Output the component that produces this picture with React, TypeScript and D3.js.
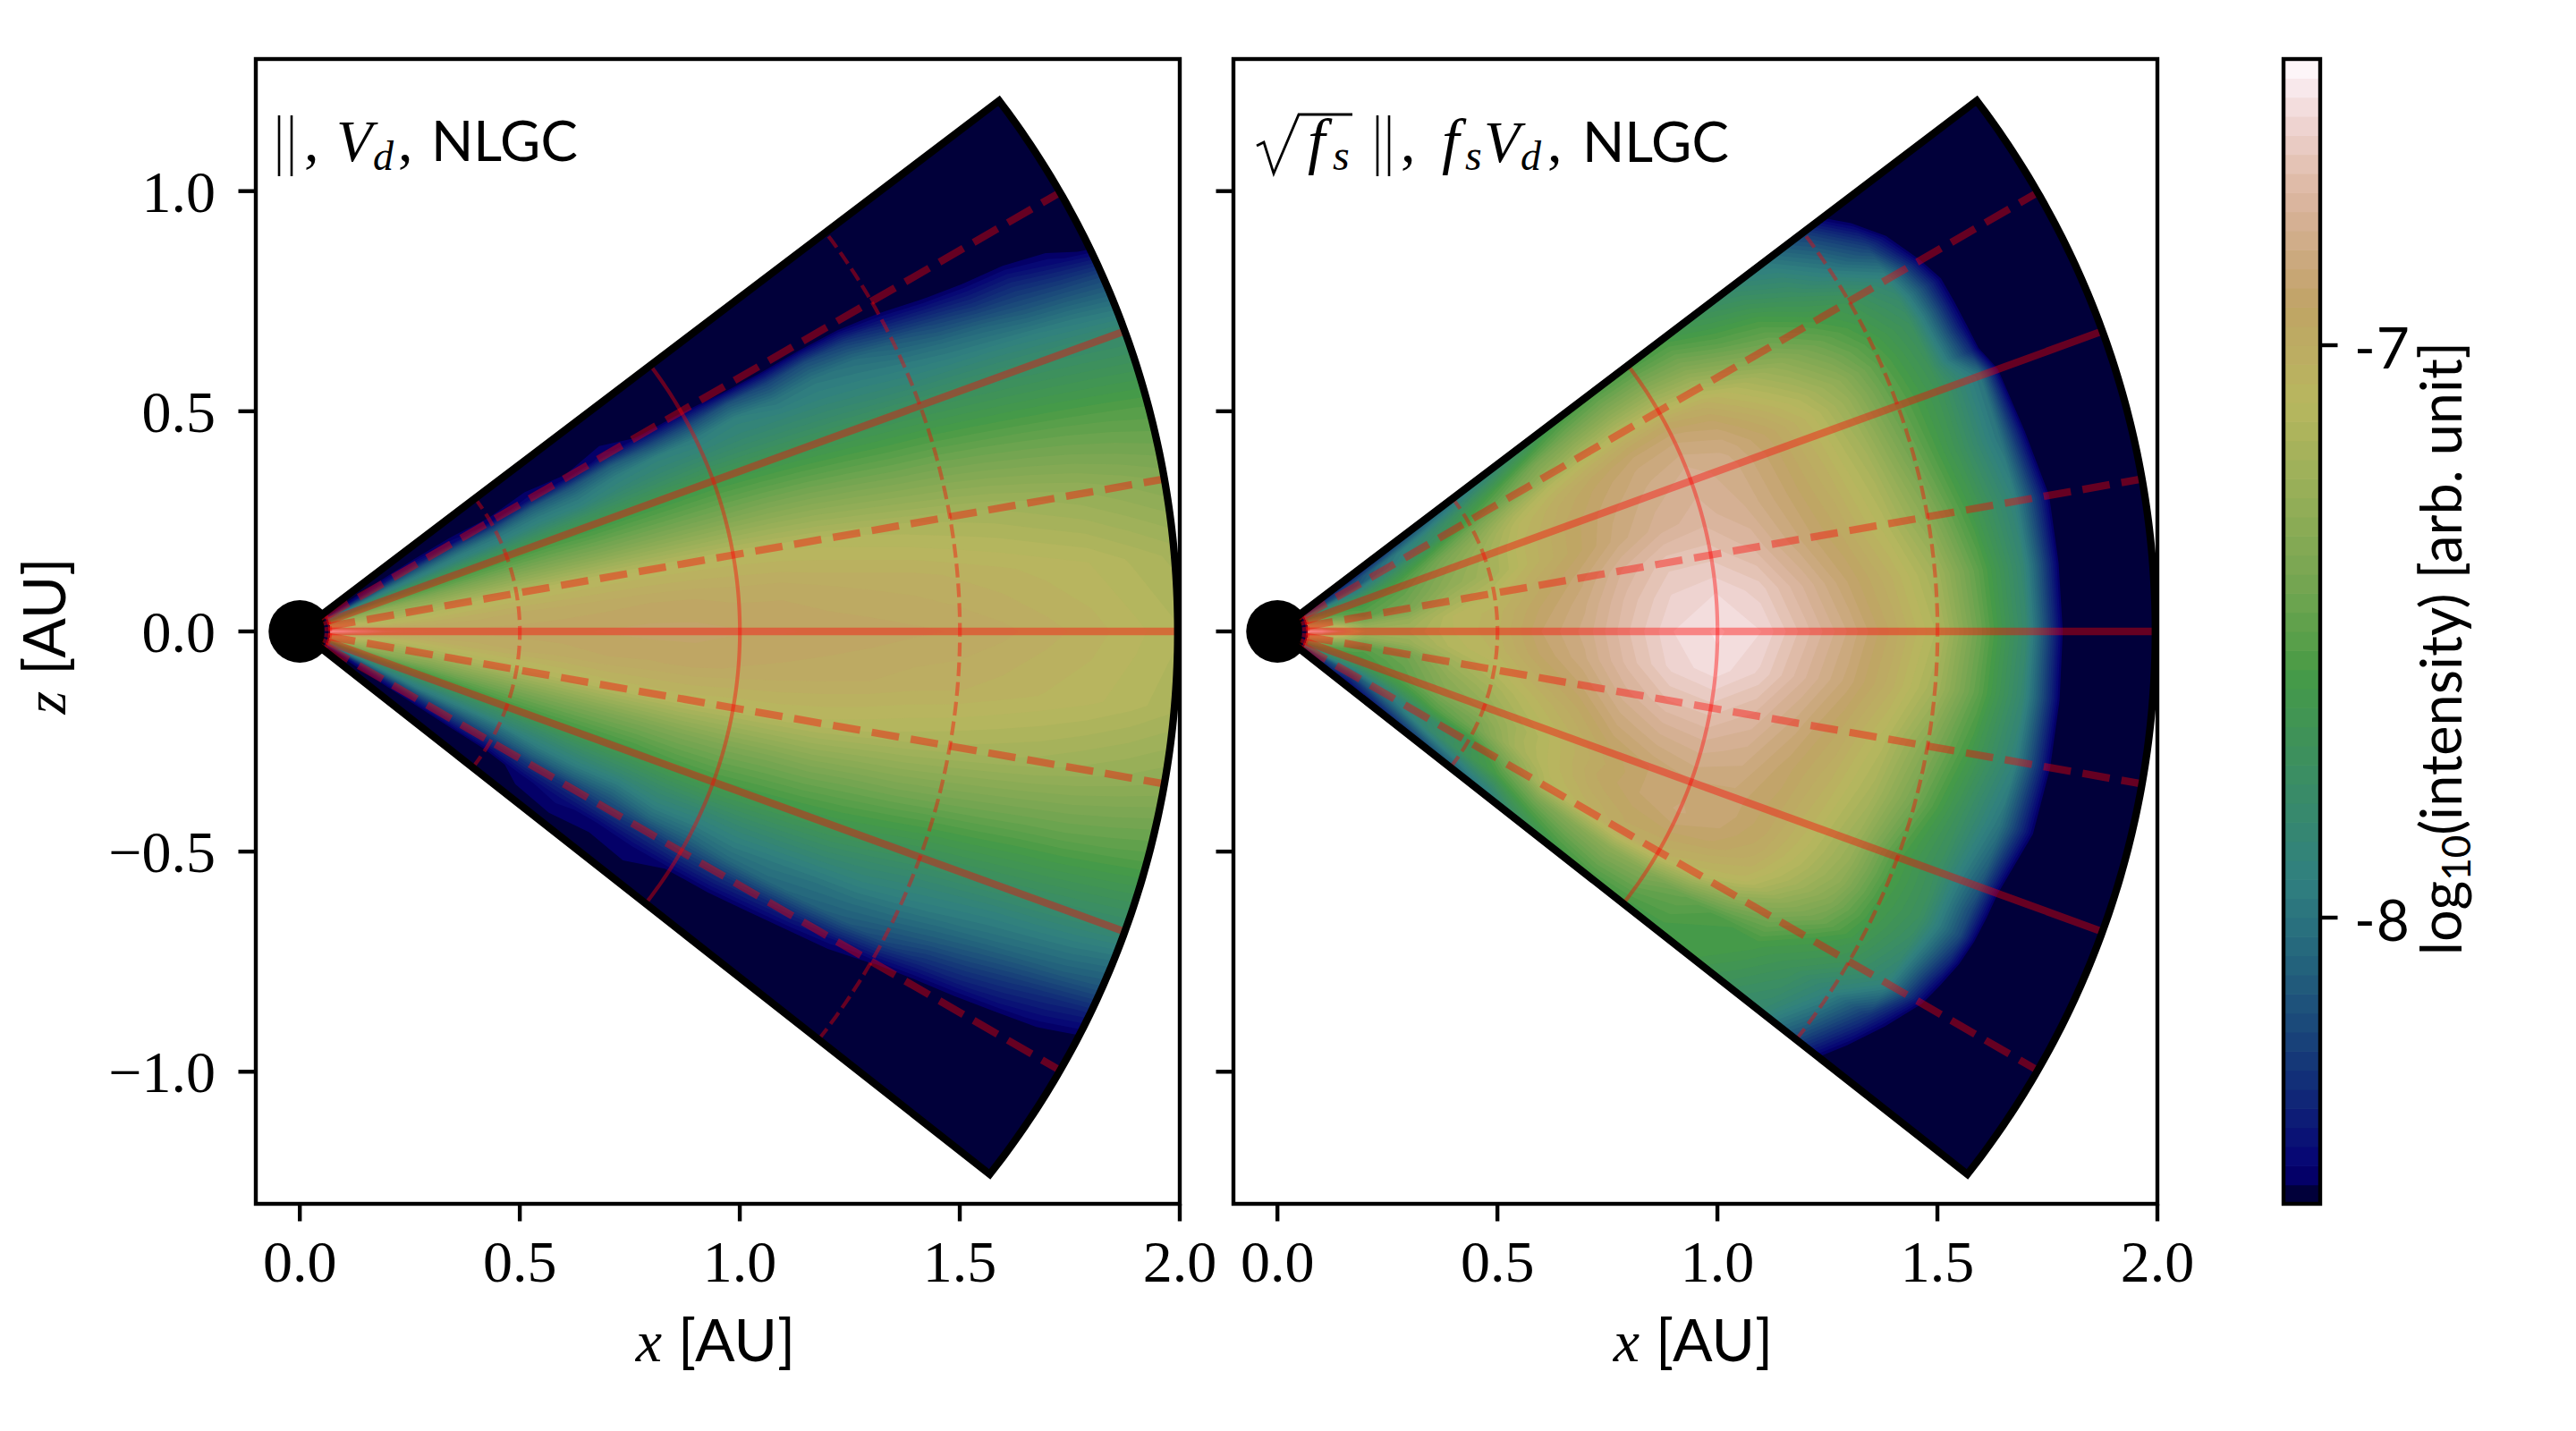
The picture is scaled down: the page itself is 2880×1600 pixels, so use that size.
// App.tsx
import React from "react";
import * as d3 from "d3";

const SERIF = "'Liberation Serif', serif";
const SANS = "Lato, 'Open Sans', sans-serif";

// polar grid of the two intensity maps
const radii = [0.07, 0.1, 0.15, 0.2, 0.3, 0.4, 0.5, 0.6, 0.7, 0.8, 0.9, 1.0, 1.1, 1.2, 1.3, 1.4, 1.5, 1.6, 1.7, 1.8, 1.9, 2.0];
const thetas = [37.2, 33, 30, 28, 26, 24, 22, 20, 15, 10, 5, 0, -5, -10, -15, -20, -22, -24, -26, -28, -30, -33, -38.2];

// log10(intensity), one row per theta
// (values under -8.5 only place the edge of the navy area)
const leftField = [
  [-8.5, -8.5, -8.5, -8.5, -8.5, -8.5, -8.5, -8.5, -8.5, -8.5, -8.5, -8.5, -8.5, -8.5, -8.5, -8.5, -8.5, -8.5, -8.5, -8.5, -8.5, -8.5],
  [-8.5, -8.5, -8.5, -8.5, -8.5, -8.5, -8.5, -8.5, -8.5, -8.5, -8.5, -8.5, -8.5, -8.5, -8.5, -8.5, -8.5, -8.5, -8.5, -8.5, -8.5, -8.5],
  [-8.5, -8.45, -8.4, -8.38, -8.35, -8.4, -8.45, -8.42, -8.46, -8.42, -8.48, -8.5, -8.6, -8.6, -8.6, -8.6, -8.6, -8.6, -8.6, -8.6, -8.6, -8.6],
  [-8.4, -8.3, -8.25, -8.2, -8.15, -8.15, -8.2, -8.12, -8.15, -8.1, -8.18, -8.2, -8.15, -8.22, -8.18, -8.25, -8.38, -8.46, -8.5, -8.52, -8.55, -8.6],
  [-8.2, -8.1, -8.05, -8.0, -8.0, -7.98, -8.0, -7.98, -8.0, -7.94, -7.92, -7.96, -7.92, -8.0, -7.98, -8.02, -8.12, -8.22, -8.3, -8.32, -8.4, -8.5],
  [-8.05, -7.95, -7.9, -7.88, -7.88, -7.88, -7.9, -7.88, -7.9, -7.86, -7.85, -7.86, -7.86, -7.88, -7.9, -7.93, -7.97, -8.02, -8.07, -8.14, -8.18, -8.22],
  [-7.85, -7.75, -7.72, -7.7, -7.72, -7.72, -7.74, -7.74, -7.74, -7.74, -7.74, -7.74, -7.76, -7.78, -7.8, -7.83, -7.86, -7.88, -7.9, -7.93, -7.97, -8.02],
  [-7.7, -7.6, -7.55, -7.55, -7.6, -7.6, -7.6, -7.6, -7.62, -7.62, -7.62, -7.62, -7.64, -7.66, -7.68, -7.7, -7.72, -7.74, -7.76, -7.78, -7.8, -7.82],
  [-7.35, -7.3, -7.28, -7.3, -7.35, -7.36, -7.36, -7.37, -7.38, -7.38, -7.38, -7.38, -7.38, -7.39, -7.41, -7.43, -7.44, -7.46, -7.48, -7.5, -7.52, -7.54],
  [-7.1, -7.15, -7.18, -7.2, -7.18, -7.14, -7.12, -7.11, -7.1, -7.1, -7.1, -7.1, -7.11, -7.12, -7.14, -7.16, -7.18, -7.2, -7.23, -7.26, -7.3, -7.34],
  [-6.9, -7.0, -7.05, -7.08, -7.05, -7.02, -7.0, -6.99, -6.98, -6.97, -6.97, -6.98, -6.98, -7.0, -7.01, -7.02, -7.04, -7.06, -7.08, -7.1, -7.14, -7.18],
  [-6.55, -6.6, -6.75, -6.88, -6.93, -6.95, -6.95, -6.94, -6.93, -6.92, -6.92, -6.93, -6.93, -6.94, -6.95, -6.96, -6.97, -6.99, -7.02, -7.05, -7.09, -7.13],
  [-6.9, -7.0, -7.06, -7.09, -7.05, -7.02, -7.0, -6.99, -6.97, -6.97, -6.96, -6.97, -6.98, -6.99, -7.0, -7.02, -7.03, -7.05, -7.07, -7.09, -7.12, -7.16],
  [-7.1, -7.15, -7.18, -7.22, -7.2, -7.16, -7.14, -7.12, -7.1, -7.09, -7.09, -7.1, -7.1, -7.11, -7.13, -7.15, -7.17, -7.19, -7.21, -7.24, -7.27, -7.3],
  [-7.35, -7.3, -7.3, -7.32, -7.38, -7.38, -7.38, -7.38, -7.38, -7.38, -7.37, -7.37, -7.38, -7.38, -7.4, -7.41, -7.43, -7.45, -7.47, -7.48, -7.5, -7.52],
  [-7.7, -7.6, -7.58, -7.58, -7.62, -7.62, -7.6, -7.6, -7.6, -7.6, -7.58, -7.58, -7.6, -7.62, -7.64, -7.68, -7.72, -7.74, -7.76, -7.78, -7.8, -7.82],
  [-7.95, -7.8, -7.76, -7.76, -7.76, -7.76, -7.76, -7.74, -7.72, -7.72, -7.7, -7.7, -7.72, -7.74, -7.76, -7.8, -7.84, -7.87, -7.9, -7.92, -7.95, -8.0],
  [-8.1, -7.95, -7.9, -7.88, -7.88, -7.88, -7.86, -7.86, -7.84, -7.84, -7.82, -7.84, -7.84, -7.86, -7.88, -7.9, -7.94, -7.98, -8.02, -8.06, -8.1, -8.15],
  [-8.2, -8.1, -8.05, -8.02, -7.98, -8.0, -8.02, -7.96, -7.95, -7.98, -7.92, -7.95, -7.94, -7.97, -8.0, -8.02, -8.06, -8.12, -8.18, -8.24, -8.3, -8.36],
  [-8.38, -8.3, -8.25, -8.2, -8.15, -8.16, -8.14, -8.1, -8.1, -8.12, -8.06, -8.08, -8.05, -8.05, -8.08, -8.12, -8.2, -8.3, -8.35, -8.4, -8.45, -8.52],
  [-8.5, -8.45, -8.4, -8.36, -8.32, -8.28, -8.3, -8.26, -8.28, -8.24, -8.26, -8.24, -8.26, -8.3, -8.34, -8.4, -8.46, -8.52, -8.56, -8.6, -8.6, -8.6],
  [-8.5, -8.5, -8.5, -8.5, -8.5, -8.5, -8.5, -8.44, -8.42, -8.45, -8.44, -8.47, -8.5, -8.55, -8.6, -8.6, -8.6, -8.6, -8.6, -8.6, -8.6, -8.6],
  [-8.5, -8.5, -8.5, -8.5, -8.5, -8.5, -8.5, -8.5, -8.5, -8.5, -8.5, -8.5, -8.5, -8.5, -8.5, -8.5, -8.5, -8.5, -8.5, -8.5, -8.5, -8.5],
];

// same grid
const rightField = [
  [-8.5, -8.5, -8.48, -8.45, -8.35, -8.2, -8.05, -7.9, -7.75, -7.6, -7.56, -7.58, -7.6, -7.72, -7.85, -8.0, -8.25, -8.65, -8.9, -8.9, -8.5, -8.5],
  [-8.4, -8.3, -8.25, -8.2, -8.0, -7.85, -7.7, -7.55, -7.4, -7.34, -7.3, -7.3, -7.36, -7.5, -7.58, -7.74, -7.95, -8.22, -8.72, -8.9, -8.5, -8.5],
  [-8.2, -8.15, -8.15, -8.15, -7.95, -7.75, -7.55, -7.4, -7.26, -7.16, -7.1, -7.1, -7.16, -7.3, -7.42, -7.56, -7.68, -7.9, -8.55, -8.9, -8.5, -8.5],
  [-8.0, -7.98, -8.0, -8.0, -7.8, -7.6, -7.42, -7.26, -7.12, -7.04, -6.98, -6.96, -7.02, -7.16, -7.3, -7.46, -7.62, -7.8, -8.42, -9.0, -8.5, -8.5],
  [-7.85, -7.85, -7.88, -7.9, -7.7, -7.5, -7.34, -7.16, -7.04, -6.96, -6.9, -6.88, -6.94, -7.08, -7.22, -7.38, -7.56, -7.74, -8.4, -9.0, -8.5, -8.5],
  [-7.75, -7.75, -7.78, -7.8, -7.62, -7.42, -7.28, -7.1, -7.0, -6.92, -6.86, -6.84, -6.88, -7.0, -7.14, -7.3, -7.52, -7.72, -8.38, -9.0, -8.5, -8.5],
  [-7.6, -7.65, -7.68, -7.7, -7.55, -7.38, -7.24, -7.08, -6.98, -6.9, -6.84, -6.8, -6.84, -6.94, -7.08, -7.26, -7.5, -7.7, -8.3, -9.2, -8.5, -8.5],
  [-7.5, -7.55, -7.6, -7.65, -7.52, -7.35, -7.22, -7.06, -6.96, -6.88, -6.82, -6.78, -6.82, -6.92, -7.06, -7.24, -7.48, -7.68, -8.0, -9.1, -8.5, -8.5],
  [-7.3, -7.4, -7.5, -7.55, -7.45, -7.3, -7.2, -7.05, -6.95, -6.85, -6.78, -6.75, -6.8, -6.9, -7.02, -7.18, -7.42, -7.68, -8.0, -8.8, -8.5, -8.5],
  [-7.1, -7.2, -7.35, -7.5, -7.4, -7.2, -7.1, -6.98, -6.88, -6.76, -6.68, -6.68, -6.74, -6.86, -6.97, -7.12, -7.32, -7.6, -7.9, -8.6, -8.5, -8.5],
  [-6.9, -7.0, -7.15, -7.3, -7.25, -7.1, -7.05, -6.93, -6.84, -6.72, -6.63, -6.6, -6.65, -6.77, -6.9, -7.03, -7.2, -7.5, -7.85, -8.6, -8.5, -8.5],
  [-6.55, -6.6, -6.9, -7.2, -7.2, -7.1, -7.04, -6.9, -6.82, -6.7, -6.6, -6.56, -6.6, -6.72, -6.84, -6.98, -7.14, -7.46, -7.82, -8.58, -8.5, -8.5],
  [-6.9, -7.0, -7.15, -7.3, -7.25, -7.12, -7.06, -6.93, -6.84, -6.72, -6.62, -6.58, -6.64, -6.76, -6.88, -7.02, -7.2, -7.5, -7.85, -8.58, -8.5, -8.5],
  [-7.1, -7.2, -7.35, -7.5, -7.42, -7.22, -7.12, -7.0, -6.9, -6.78, -6.7, -6.68, -6.74, -6.85, -6.97, -7.12, -7.34, -7.6, -7.9, -8.58, -8.5, -8.5],
  [-7.3, -7.4, -7.5, -7.55, -7.46, -7.3, -7.2, -7.08, -6.98, -6.86, -6.8, -6.78, -6.82, -6.92, -7.03, -7.18, -7.42, -7.7, -8.0, -8.6, -8.5, -8.5],
  [-7.5, -7.55, -7.6, -7.6, -7.5, -7.35, -7.28, -7.15, -7.05, -6.95, -6.9, -6.87, -6.88, -6.95, -7.08, -7.25, -7.55, -7.75, -8.15, -8.9, -8.5, -8.5],
  [-7.6, -7.65, -7.68, -7.68, -7.56, -7.4, -7.32, -7.18, -7.06, -6.97, -6.9, -6.87, -6.88, -6.96, -7.1, -7.27, -7.56, -7.74, -8.2, -8.9, -8.5, -8.5],
  [-7.75, -7.75, -7.78, -7.78, -7.62, -7.46, -7.38, -7.18, -7.07, -6.96, -6.9, -6.86, -6.9, -6.98, -7.13, -7.3, -7.58, -7.74, -8.2, -9.0, -8.5, -8.5],
  [-7.85, -7.85, -7.88, -7.88, -7.72, -7.52, -7.42, -7.2, -7.08, -6.98, -6.93, -6.9, -6.94, -7.02, -7.18, -7.36, -7.6, -7.78, -8.3, -9.0, -8.5, -8.5],
  [-8.0, -7.98, -8.0, -8.02, -7.84, -7.62, -7.52, -7.3, -7.1, -7.02, -6.96, -6.96, -7.02, -7.08, -7.28, -7.44, -7.64, -7.84, -8.42, -9.0, -8.5, -8.5],
  [-8.2, -8.15, -8.15, -8.15, -7.95, -7.8, -7.7, -7.4, -7.14, -7.06, -6.98, -7.02, -7.1, -7.26, -7.4, -7.58, -7.7, -7.9, -8.52, -9.0, -8.5, -8.5],
  [-8.4, -8.3, -8.25, -8.3, -8.1, -7.85, -7.7, -7.56, -7.4, -7.34, -7.3, -7.34, -7.46, -7.56, -7.58, -7.7, -7.9, -8.26, -8.7, -8.9, -8.5, -8.5],
  [-8.5, -8.5, -8.48, -8.48, -8.4, -8.3, -8.15, -8.0, -7.75, -7.62, -7.58, -7.6, -7.6, -7.6, -7.72, -7.85, -8.2, -8.62, -8.9, -8.9, -8.5, -8.5],
];

// guide lines
const solidRays = [0, 20, -20];
const dashedRays = [10, -10, 30, -30];
const solidArcs = [1.0];
const dashedArcs = [0.065, 0.5, 1.5];

const xTickValues = [0, 0.5, 1, 1.5, 2];
const zTickValues = [-1, -0.5, 0, 0.5, 1];
const barTickValues = [-7, -8];
const barRange = [-8.5, -6.5];
const levelCount = 60;

// gist_earth stops: position, channel value
const redStops = [[0, 0], [0.2824, 0.1882], [0.4588, 0.2714], [0.549, 0.4719], [0.698, 0.7176], [0.7882, 0.7553], [1, 1]];
const greenStops = [[0, 0], [0.0275, 0], [0.1098, 0.1893], [0.1647, 0.3035], [0.2078, 0.3841], [0.2824, 0.502], [0.5216, 0.6397], [0.698, 0.7171], [0.7882, 0.6392], [0.8157, 0.6549], [0.8667, 0.6991], [0.898, 0.743], [0.9412, 0.8275], [0.9647, 0.8816], [0.9961, 0.9733], [1, 1]];
const blueStops = [[0, 0], [0.0039, 0.1684], [0.0078, 0.2212], [0.0275, 0.4329], [0.0314, 0.4549], [0.2824, 0.5004], [0.4667, 0.2748], [0.5451, 0.3205], [0.7843, 0.3961], [0.8941, 0.6651], [1, 1]];

const channel = (stops: number[][]) =>
  d3.scaleLinear().domain(stops.map((d) => d[0])).range(stops.map((d) => d[1] * 255));
const redAt = channel(redStops);
const greenAt = channel(greenStops);
const blueAt = channel(blueStops);
const gistEarth = (t: number) => d3.rgb(redAt(t), greenAt(t), blueAt(t)).formatRgb();

const levels = d3.range(levelCount + 1).map((i) => barRange[0] + ((barRange[1] - barRange[0]) * i) / levelCount);
const bandColor = (i: number) => gistEarth((i + 0.5) / levelCount);

const zScale = d3.scaleLinear().domain([-1.3, 1.3]).range([1346, 66]);
const PX_PER_AU = 492;
const rad = (deg: number) => (deg * Math.PI) / 180;

// grid cell centres sit at index + 0.5 in d3.contours output
const rOfCell = d3.scaleLinear().domain(radii.map((_, i) => i + 0.5)).range(radii).clamp(true);
const thetaOfCell = d3.scaleLinear().domain(thetas.map((_, i) => i + 0.5)).range(thetas).clamp(true);

const fmt = (v: number) => d3.format(".1f")(v).replace("-", "\u2212");

function Panel({ x0, field, id, left }: { x0: number; field: number[][]; id: string; left: boolean }) {
  const xScale = d3.scaleLinear().domain([-0.1, 2]).range([x0, x0 + 1033]);
  const ox = xScale(0);
  const oy = zScale(0);
  const topEdge = thetas[0];
  const bottomEdge = thetas[thetas.length - 1];

  const toPlot = d3.geoTransform({
    point(cx: number, cy: number) {
      const r = rOfCell(cx);
      const t = rad(thetaOfCell(cy));
      (this as any).stream.point(xScale(r * Math.cos(t)), zScale(r * Math.sin(t)));
    },
  });
  const contourPath = d3.geoPath(toPlot);
  const contours = d3.contours().size([radii.length, thetas.length]).smooth(true).thresholds(levels.slice(1, -1))(field.flat());

  const radial = d3.lineRadial<number>().angle((d) => Math.PI / 2 - rad(d[0])).radius((d) => d[1] * PX_PER_AU);
  const arcLine = (r: number) => radial(d3.range(bottomEdge, topEdge + 0.01, 0.5).concat(topEdge).map((t) => [t, r] as any) as any) as string;
  const rayLine = (t: number) => radial([[t, 0.065], [t, 2]] as any) as string;
  const outline = (inner: number) =>
    radial(
      ([[topEdge, inner], [topEdge, 1.995]] as any[])
        .concat(d3.range(topEdge, bottomEdge, -0.5).map((t) => [t, 1.995]))
        .concat([[bottomEdge, 1.995], [bottomEdge, inner]]) as any
    ) as string;

  return (
    <g>
      <clipPath id={id}>
        <rect x={x0} y={66} width={1033} height={1280} />
      </clipPath>
      <clipPath id={id + "w"}>
        <path d={outline(0.07) + "Z"} transform={`translate(${ox},${oy})`} />
      </clipPath>
      <g clipPath={`url(#${id})`}>
        <circle cx={ox} cy={oy} r={0.071 * PX_PER_AU} fill="#000" />
        <path d={outline(0.07) + "Z"} transform={`translate(${ox},${oy})`} fill={bandColor(0)} />
        <g clipPath={`url(#${id}w)`}>
          {contours.map((c, i) => (
            <path key={i} d={contourPath(c as any) as string} fill={bandColor(i + 1)} />
          ))}
        </g>
        <g transform={`translate(${ox},${oy})`} fill="none" stroke="#f00" strokeOpacity={0.4}>
          {solidRays.map((t) => (
            <path key={t} d={rayLine(t)} strokeWidth={8.3} />
          ))}
          {dashedRays.map((t) => (
            <path key={t} d={rayLine(t)} strokeWidth={8.3} strokeDasharray="30.8 13.3" />
          ))}
          {solidArcs.map((r) => (
            <path key={r} d={arcLine(r)} strokeWidth={4.2} />
          ))}
          {dashedArcs.map((r) => (
            <path key={r} d={arcLine(r)} strokeWidth={r < 0.1 ? 8.3 : 4.2} strokeDasharray={r < 0.1 ? "5 2.2" : "15.4 6.7"} />
          ))}
        </g>
        <path d={outline(0.02)} transform={`translate(${ox},${oy})`} fill="none" stroke="#000" strokeWidth={8.3} strokeLinejoin="miter" strokeMiterlimit={10} />
      </g>
      <rect x={x0} y={66} width={1033} height={1280} fill="none" stroke="#000" strokeWidth={4.4} />
      {xTickValues.map((v) => (
        <g key={v}>
          <line x1={xScale(v)} x2={xScale(v)} y1={1346} y2={1365.5} stroke="#000" strokeWidth={4.4} />
          <text x={xScale(v)} y={1433} textAnchor="middle" fontFamily={SERIF} fontSize={66}>
            {fmt(v)}
          </text>
        </g>
      ))}
      {zTickValues.map((v) => (
        <g key={v}>
          <line x1={x0} x2={x0 - 19.5} y1={zScale(v)} y2={zScale(v)} stroke="#000" strokeWidth={4.4} />
          {left && (
            <text x={241} y={zScale(v) + 23} textAnchor="end" fontFamily={SERIF} fontSize={66}>
              {fmt(v)}
            </text>
          )}
        </g>
      ))}
      <text x={x0 + 514} y={1522} textAnchor="middle" fontSize={66}>
        <tspan fontFamily={SERIF} fontStyle="italic">x</tspan>
        <tspan fontFamily={SANS} dx={18}>[AU]</tspan>
      </text>
    </g>
  );
}

function ColorBar() {
  const barScale = d3.scaleLinear().domain(barRange).range([1346, 66]);
  return (
    <g>
      {levels.slice(0, -1).map((lv, i) => (
        <rect key={i} x={2553} width={41} y={barScale(levels[i + 1])} height={barScale(lv) - barScale(levels[i + 1]) + 0.6} fill={bandColor(i)} />
      ))}
      <rect x={2553} y={66} width={41} height={1280} fill="none" stroke="#000" strokeWidth={4.4} />
      {barTickValues.map((v) => (
        <g key={v}>
          <line x1={2594} x2={2613.5} y1={barScale(v)} y2={barScale(v)} stroke="#000" strokeWidth={4.4} />
          <text x={2632} y={barScale(v) + 26} fontFamily={SANS} fontSize={64}>
            <tspan>-</tspan>
            <tspan dx={1}>{Math.abs(v)}</tspan>
          </text>
        </g>
      ))}
      <text transform="translate(2752,725) rotate(-90)" textAnchor="middle" fontFamily={SANS} fontSize={63}>
        log
        <tspan fontSize={44} dy={10}>10</tspan>
        <tspan dy={-10}>(intensity) [arb. unit]</tspan>
      </text>
    </g>
  );
}

function MathLabel({ x, y, size, italic, children }: any) {
  return (
    <text x={x} y={y} fontFamily={SERIF} fontSize={size} fontStyle={italic ? "italic" : "normal"}>
      {children}
    </text>
  );
}

export default function App() {
  return (
    <svg width={2880} height={1600} viewBox="0 0 2880 1600" style={{ position: "absolute", left: 0, top: 0, background: "#fff" }}>
      <Panel x0={286} field={leftField} id="leftClip" left={true} />
      <Panel x0={1379} field={rightField} id="rightClip" left={false} />
      <ColorBar />

      {/* left panel label */}
      <path d="M312,129V197M326,129V197" stroke="#000" strokeWidth={2.6} fill="none" />
      <MathLabel x={340} y={180} size={66}>,</MathLabel>
      <MathLabel x={376} y={180} size={66} italic>V</MathLabel>
      <MathLabel x={417} y={190} size={46} italic>d</MathLabel>
      <MathLabel x={445} y={180} size={66}>,</MathLabel>
      <text x={482} y={180} fontFamily={SANS} fontSize={62}>NLGC</text>

      {/* right panel label */}
      <path d="M1405,163L1413,159L1424,194L1452,128H1512" stroke="#000" strokeWidth={2.8} fill="none" />
      <MathLabel x={1462} y={181} size={70} italic>f</MathLabel>
      <MathLabel x={1490} y={190} size={48} italic>s</MathLabel>
      <path d="M1540,129V197M1553,129V197" stroke="#000" strokeWidth={2.6} fill="none" />
      <MathLabel x={1566} y={181} size={66}>,</MathLabel>
      <MathLabel x={1612} y={181} size={70} italic>f</MathLabel>
      <MathLabel x={1638} y={190} size={48} italic>s</MathLabel>
      <MathLabel x={1659} y={181} size={66} italic>V</MathLabel>
      <MathLabel x={1700} y={190} size={46} italic>d</MathLabel>
      <MathLabel x={1730} y={181} size={66}>,</MathLabel>
      <text x={1769} y={181} fontFamily={SANS} fontSize={62}>NLGC</text>

      {/* shared y label */}
      <text transform="translate(73,711) rotate(-90)" textAnchor="middle" fontSize={66}>
        <tspan fontFamily={SERIF} fontStyle="italic">z</tspan>
        <tspan fontFamily={SANS} dx={18}>[AU]</tspan>
      </text>
    </svg>
  );
}
